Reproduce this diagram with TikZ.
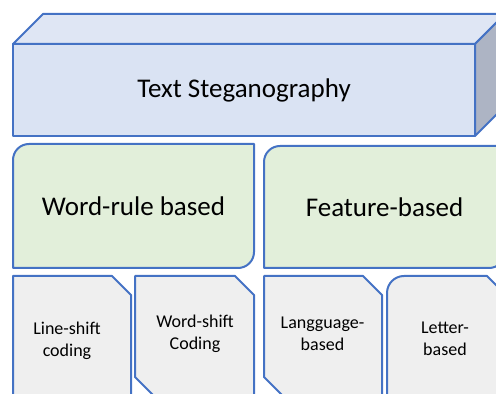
\documentclass[tikz,border=0pt]{standalone}
\usepackage{fontspec}
\setmainfont{Carlito}
\usepackage{xcolor}
\usepackage{tikz}
\usetikzlibrary{positioning,calc}

\definecolor{boxblue}{HTML}{4472C4}
\definecolor{frontfill}{HTML}{DAE3F3}
\definecolor{topfill}{HTML}{DFE6F4}
\definecolor{sidefill}{HTML}{ADB4C4}
\definecolor{greenfill}{HTML}{E2EFDA}
\definecolor{greyfill}{HTML}{EFEFEF}

\tikzset{
    face/.style={draw=boxblue, line width=1pt, line join=round},
    bigtext/.style={font=\fontsize{13.5}{16}\selectfont, align=center},
    smalltext/.style={font=\fontsize{9}{11}\selectfont, align=center}
}

\begin{document}
\begin{tikzpicture}[x=0.5pt,y=-0.5pt]
    \useasboundingbox (0,0) rectangle (496,394);
    \clip (0,0) rectangle (496,394);

    % Cuboid
    \draw[face, fill=topfill] (13,44) -- (43,14) -- (505,14) -- (475,44) -- cycle;
    \draw[face, fill=sidefill] (475,44) -- (505,14) -- (505,106) -- (475,136) -- cycle;
    \draw[face, fill=frontfill] (13,44) rectangle (475,136);
    \node[bigtext] (title) at (244,90) {Text Steganography};

    % Second level
    \draw[face, fill=greenfill] (13,268) -- (13,160) arc (180:270:16) -- (254,144)
        -- (254,252) arc (0:90:16) -- cycle;
    \node[bigtext] (wordrule) at (133.5,206) {Word-rule based};

    \draw[face, fill=greenfill] (264,268) -- (264,162) arc (180:270:16) -- (505,146)
        -- (505,252) arc (0:90:16) -- cycle;
    \node[bigtext] (feature) at (384.5,207) {Feature-based};

    % Third level
    \draw[face, fill=greyfill] (13,276) -- (112,276) -- (131,295) -- (131,400) -- (13,400) -- cycle;
    \node[smalltext] (lineshift) at (67,341) {Line-shift\\coding};

    \draw[face, fill=greyfill] (135,276) -- (235,276) -- (254,295) -- (254,396)
        -- (154,396) -- (135,377) -- cycle;
    \node[smalltext] (wordshift) at (195,334) {Word-shift\\Coding};

    \draw[face, fill=greyfill] (264,276) -- (363,276) -- (382,295) -- (382,396)
        -- (283,396) -- (264,377) -- cycle;
    \node[smalltext] (language) at (322.5,334) {Langguage-\\based};

    \draw[face, fill=greyfill] (387,293) arc (180:270:17) -- (487,276) -- (506,295)
        -- (506,400) -- (387,400) -- cycle;
    \node[smalltext] (letter) at (445,339) {Letter-\\based};

\end{tikzpicture}
\end{document}
